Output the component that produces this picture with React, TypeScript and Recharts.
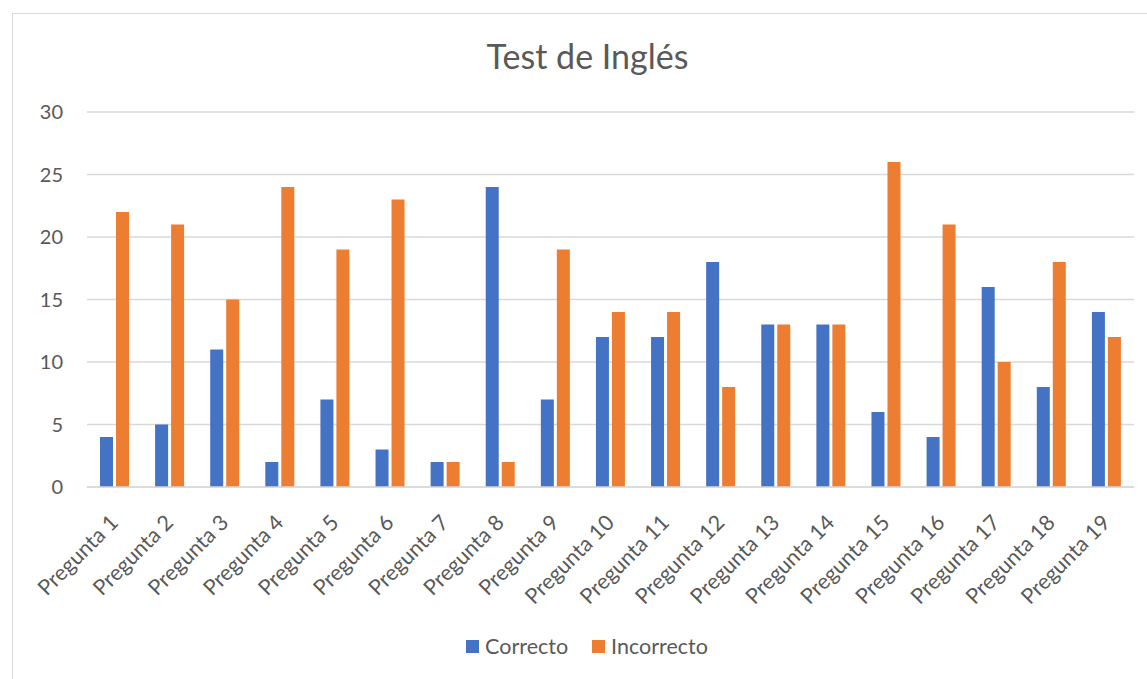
import React from "react";
import {
  BarChart,
  Bar,
  XAxis,
  YAxis,
  CartesianGrid,
  Legend,
} from "recharts";

const preguntas = [
  "Pregunta 1", "Pregunta 2", "Pregunta 3", "Pregunta 4", "Pregunta 5",
  "Pregunta 6", "Pregunta 7", "Pregunta 8", "Pregunta 9", "Pregunta 10",
  "Pregunta 11", "Pregunta 12", "Pregunta 13", "Pregunta 14", "Pregunta 15",
  "Pregunta 16", "Pregunta 17", "Pregunta 18", "Pregunta 19",
];
const correcto = [4, 5, 11, 2, 7, 3, 2, 24, 7, 12, 12, 18, 13, 13, 6, 4, 16, 8, 14];
const incorrecto = [22, 21, 15, 24, 19, 23, 2, 2, 19, 14, 14, 8, 13, 13, 26, 21, 10, 18, 12];
const yTicks = [0, 5, 10, 15, 20, 25, 30];

const data = preguntas.map((p, i) => ({
  pregunta: p,
  correcto: correcto[i],
  incorrecto: incorrecto[i],
}));

const FONT = "Lato, 'Noto Sans', sans-serif";
const TEXT = "#595959";
const GRID = "#d9d9d9";

function XTick({ x, y, payload }: any) {
  return (
    <g transform={`translate(${x + 5},${y + 37}) rotate(-45)`}>
      <text x={0} y={0} textAnchor="end" fill={TEXT} fontSize={21.5} fontFamily={FONT}>
        {payload.value}
      </text>
    </g>
  );
}

function LegendBox({ payload }: any) {
  return (
    <div
      style={{
        display: "flex",
        justifyContent: "center",
        alignItems: "center",
        height: 60,
        paddingLeft: 40,
        paddingBottom: 6,
        boxSizing: "border-box",
        fontFamily: FONT,
        fontSize: 21.5,
        color: TEXT,
      }}
    >
      {(payload || []).map((item: any, i: number) => (
        <div key={i} style={{ display: "flex", alignItems: "center", marginRight: i === 0 ? 24 : 0 }}>
          <span style={{ width: 13, height: 13, background: item.color, marginRight: 6, display: "inline-block" }} />
          <span>{item.value}</span>
        </div>
      ))}
    </div>
  );
}

export default function App() {
  return (
    <div
      style={{
        position: "absolute",
        left: 0,
        top: 0,
        width: 1147,
        height: 679,
        overflow: "hidden",
        background: "#fff",
      }}
    >
      <div
        style={{
          position: "absolute",
          left: 12,
          top: 13,
          width: 1200,
          height: 720,
          border: `1.5px solid ${GRID}`,
        }}
      />
      <div
        style={{
          position: "absolute",
          left: 0,
          top: 39,
          width: 1175,
          textAlign: "center",
          fontFamily: FONT,
          fontSize: 34,
          lineHeight: "34px",
          color: TEXT,
        }}
      >
        Test de Inglés
      </div>
      <BarChart
        width={1147}
        height={679}
        data={data}
        margin={{ top: 112, right: 13, left: 0, bottom: 0 }}
        barSize={13}
        barGap={3}
        style={{ position: "absolute", left: 0, top: 0 }}
      >
        <CartesianGrid vertical={false} stroke={GRID} strokeWidth={1.5} />
        <XAxis
          dataKey="pregunta"
          interval={0}
          height={132}
          tickLine={false}
          tickSize={0}
          tickMargin={0}
          axisLine={{ stroke: GRID, strokeWidth: 1.5 }}
          tick={<XTick />}
        />
        <YAxis
          width={87}
          domain={[0, 30]}
          ticks={yTicks}
          axisLine={false}
          tickLine={false}
          tickSize={0}
          tickMargin={24}
          tick={{ fill: TEXT, fontSize: 20, fontFamily: FONT }}
        />
        <Legend verticalAlign="bottom" height={60} content={<LegendBox />} />
        <Bar dataKey="correcto" name="Correcto" fill="#4472C4" isAnimationActive={false} />
        <Bar dataKey="incorrecto" name="Incorrecto" fill="#ED7D31" isAnimationActive={false} />
      </BarChart>
    </div>
  );
}
